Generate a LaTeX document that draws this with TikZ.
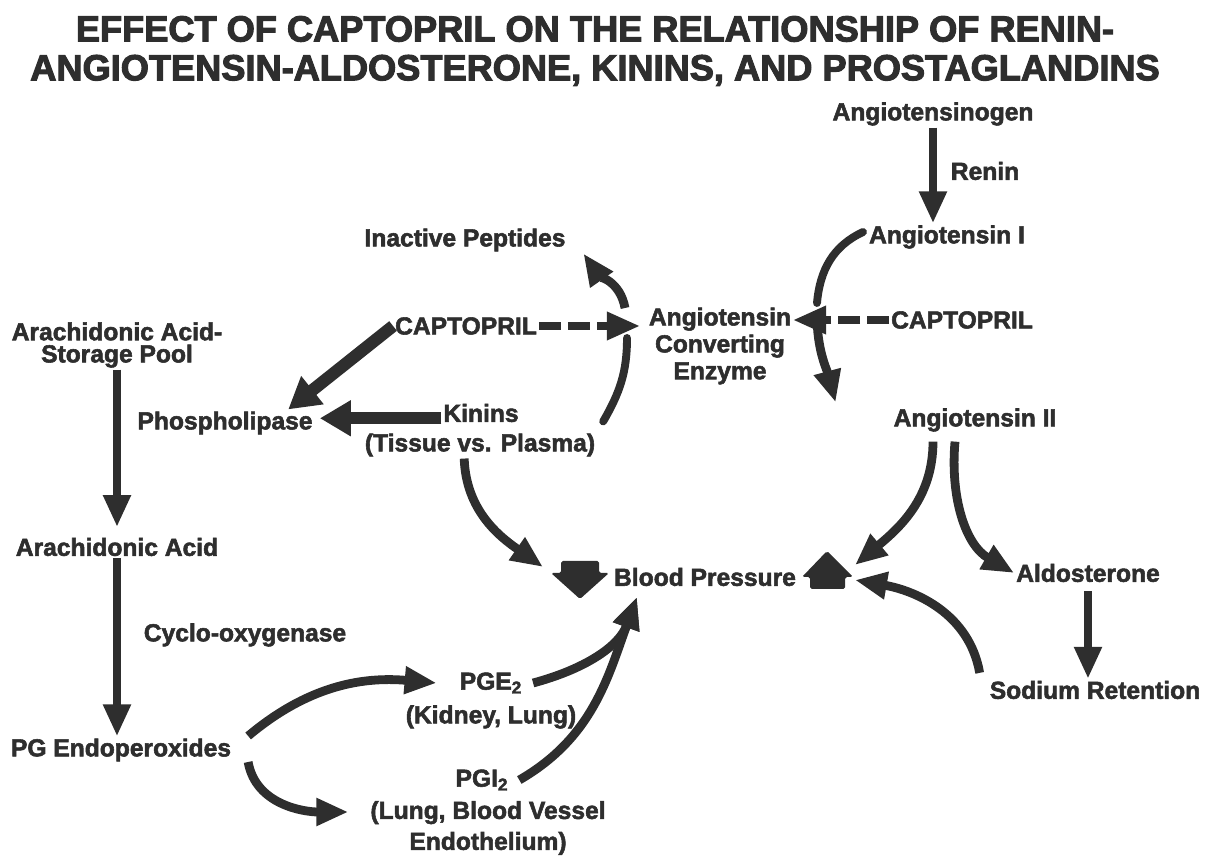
\documentclass[tikz,border=0pt]{standalone}
\usepackage{fontspec}
\setmainfont{Liberation Sans}[BoldFeatures={FakeBold=2.2}]
\newfontfamily\titlefont{Liberation Sans}[BoldFeatures={FakeBold=3}]
\usetikzlibrary{arrows.meta, positioning}
\definecolor{ink}{HTML}{2E2E2E}

\tikzset{
  txt/.style={font=\fontsize{14}{15.3}\selectfont\bfseries, text=ink, inner sep=1pt, align=center},
  flow/.style={draw=ink, line width=5pt, -{Triangle[width=0.52cm, length=0.64cm]}},
  fatflow/.style={draw=ink, line width=7pt, -{Triangle[width=0.68cm, length=0.62cm]}},
  link/.style={draw=ink, line width=4.5pt, line cap=round},
  dashflow/.style={draw=ink, line width=4pt, dash pattern=on 0.44cm off 0.14cm, -{Triangle[width=0.54cm, length=0.66cm]}},
}

\begin{document}
\begin{tikzpicture}[x=0.02cm, y=0.02cm]
  \useasboundingbox (0,0) rectangle (1220,-857);

  \node[txt, font=\titlefont\fontsize{20.6}{22.1}\selectfont\bfseries] (title) at (595,-51)
    {EFFECT OF CAPTOPRIL ON THE RELATIONSHIP OF RENIN-\\ANGIOTENSIN-ALDOSTERONE, KININS, AND PROSTAGLANDINS};

  % renin - angiotensin side
  \node[txt] (agen)   at (933,-114) {Angiotensinogen};
  \node[txt] (renin)  at (985,-171) {Renin};
  \node[txt] (angI)   at (947,-237) {Angiotensin I};
  \node[txt] (captoR) at (962,-320) {CAPTOPRIL};
  \node[txt] (ace)    at (720,-346) {Angiotensin\\Converting\\Enzyme};
  \node[txt] (angII)  at (975,-420) {Angiotensin II};
  \node[txt] (aldo)   at (1088,-573) {Aldosterone};
  \node[txt] (sodium) at (1095,-690) {Sodium Retention};

  % kinins
  \node[txt] (captoL)  at (466,-326) {CAPTOPRIL};
  \node[txt] (inact)   at (465,-240) {Inactive Peptides};
  \node[txt] (kinins)  at (481,-413) {Kinins};
  \node[txt] (kinsite) at (480,-445) {(Tissue vs. Plasma)};

  % prostaglandins
  \node[txt, font=\fontsize{14}{12.6}\selectfont\bfseries] (pool) at (117,-345) {Arachidonic Acid-\\Storage Pool};
  \node[txt] (phos)  at (225,-423) {Phospholipase};
  \node[txt] (arach) at (117,-547) {Arachidonic Acid};
  \node[txt] (cyclo) at (245,-635) {Cyclo-oxygenase};
  \node[txt] (endo)  at (121,-750) {PG Endoperoxides};
  \node[txt] (pge2)     at (491,-683) {PGE\textsubscript{2}};
  \node[txt] (pge2site) at (491,-717) {(Kidney, Lung)};
  \node[txt] (pgi2)     at (482,-780) {PGI\textsubscript{2}};
  \node[txt, font=\fontsize{14}{17.6}\selectfont\bfseries] (pgi2site) at (488,-828) {(Lung, Blood Vessel\\Endothelium)};

  \node[txt] (bp) at (705,-577) {Blood Pressure};
  \fill[ink, rounded corners=1pt] (561,-561) -- (599,-561) -- (599,-573) -- (609,-573) -- (580,-599) -- (551,-573) -- (561,-573) -- cycle;
  \fill[ink, rounded corners=1pt] (810,-589) -- (845,-589) -- (845,-577) -- (853,-577) -- (827,-551) -- (802,-577) -- (810,-577) -- cycle;

  \coordinate (aceRtop) at (817,-303);
  \coordinate (aceRbot) at (817,-315);
  \coordinate (aceLtop) at (625,-308);
  \coordinate (aceLbot) at (627,-338);
  \coordinate (bpK) at (543,-567);
  \coordinate (bpP) at (637,-597);
  \coordinate (bpA) at (855,-565);
  \coordinate (bpS) at (855,-580);

  \draw[flow] (agen.south) -- (agen.south |- angI.north);
  \draw[link] ([shift={(-4,5)}]angI.west) to[out=205, in=85] (aceRtop);
  \draw[flow] (aceRbot) to[out=-90, in=105] ([shift={(-56,4)}]angII.north west);
  \draw[dashflow] (captoR.west) -- (captoR.west -| ace.east);
  \draw[dashflow, shorten >=4pt] (captoL.east) -- (captoL.east -| ace.west);
  \draw[flow] (aceLtop) to[out=100, in=-55] ([xshift=9pt]inact.south east);
  \draw[link] ([shift={(6,10)}]kinsite.north east) to[out=60, in=-90] (aceLbot);

  \draw[fatflow, shorten >=3pt] ([yshift=-3pt]kinins.west) -- ([yshift=-3pt]kinins.west -| phos.east);
  \draw[fatflow] (captoL.west) -- ([xshift=-15pt]phos.north east);

  \draw[flow, shorten >=5pt] (pool.south) -- (arach.north);
  \draw[flow] (arach.south) -- (arach.south |- endo.north);
  \draw[flow] ([shift={(15,14)}]endo.east) to[out=40, in=175] ([xshift=-12pt]pge2.west);
  \draw[flow] ([shift={(15,-12)}]endo.east) to[out=-80, in=180] ([shift={(-20,16)}]pgi2site.west);
  \draw[flow] ([xshift=5pt]pge2.east) to[out=15, in=-110] (bpP);
  \draw[flow] ([xshift=5pt]pgi2.east) to[out=30, in=-110] (bpP);

  \draw[flow] ([xshift=-9pt]kinsite.south) to[out=-88, in=145] (bpK);
  \draw[flow] ([shift={(-42,-8)}]angII.south) to[out=-90, in=40] (bpA);
  \draw[flow] ([shift={(-20,-8)}]angII.south) to[out=-95, in=150] (aldo.west);
  \draw[flow, shorten <=4pt] (aldo.south) -- (aldo.south |- sodium.north);
  \draw[flow] ([shift={(-8,6)}]sodium.north west) to[out=100, in=-10] (bpS);
\end{tikzpicture}
\end{document}
